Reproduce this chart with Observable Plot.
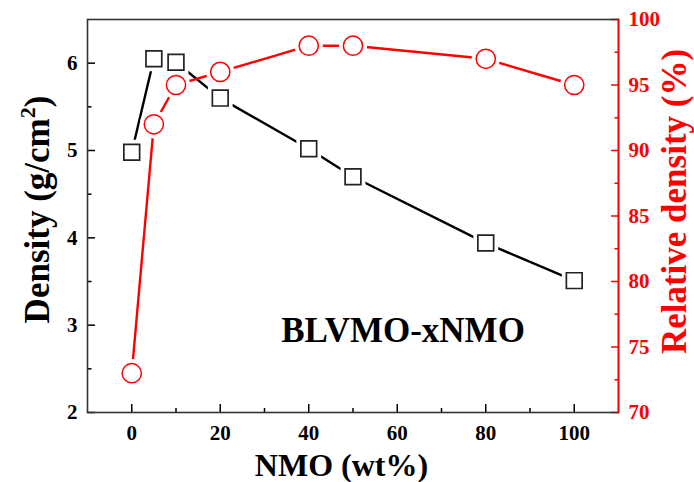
<!DOCTYPE html>
<html><head><meta charset="utf-8">
<script src="https://cdn.jsdelivr.net/npm/d3@7"></script>
<script src="https://cdn.jsdelivr.net/npm/@observablehq/plot@0.6"></script>
<style>body{margin:0;background:#fff} svg{display:block}</style>
</head><body><div id="chart"></div>
<script>
// ---- data ----
const nmo = [0, 5, 10, 20, 40, 50, 80, 100];
const density = [4.98, 6.05, 6.01, 5.60, 5.02, 4.70, 3.94, 3.51];
const relDensity = [73.0, 92.0, 95.0, 96.0, 98.0, 98.0, 97.0, 95.0];
const xTicks = [0, 20, 40, 60, 80, 100];
const xMinorTicks = [10, 30, 50, 70, 90];
const yTicks = [2, 3, 4, 5, 6];
const yMinorTicks = [2.5, 3.5, 4.5, 5.5];
const rTicks = [70, 75, 80, 85, 90, 95, 100];
const rMinorTicks = [72.5, 77.5, 82.5, 87.5, 92.5, 97.5];
const xLabel = "NMO (wt%)";
const yLabel = ["Density (g/cm", "2", ")"];
const rLabel = "Relative density (%)";
const note = "BLVMO-xNMO";

// ---- scales ----
const yDomain = [2, 6.5];
const rDomain = [70, 100];
const toY = v => yDomain[0] + (v - rDomain[0]) / (rDomain[1] - rDomain[0]) * (yDomain[1] - yDomain[0]);
const fromY = v => rDomain[0] + (v - yDomain[0]) / (yDomain[1] - yDomain[0]) * (rDomain[1] - rDomain[0]);

const dens = nmo.map((x, i) => ({x, y: density[i]}));
const rel = nmo.map((x, i) => ({x, y: toY(relDensity[i])}));

const font = "'Liberation Serif', 'Times New Roman', serif";
const W = 694, H = 482, mL = 87, mR = 76, mT = 19, mB = 70;

const chart = Plot.plot({
  width: W, height: H,
  marginLeft: mL, marginRight: mR, marginTop: mT, marginBottom: mB,
  style: {fontFamily: font, fontWeight: "bold", fontSize: "21px", background: "white", color: "black", overflow: "visible"},
  x: {domain: [-10, 110]},
  y: {domain: yDomain},
  marks: [
    Plot.line(dens, {x: "x", y: "y", stroke: "black", strokeWidth: 2.4}),
    Plot.line(rel, {x: "x", y: "y", stroke: "red", strokeWidth: 2.4}),
    // white halos to create gaps between lines and markers
    Plot.dot(dens, {x: "x", y: "y", symbol: "square", r: 8.9, fill: "white", stroke: "white", strokeWidth: 9}),
    Plot.dot(rel, {x: "x", y: "y", symbol: "circle", r: 9.6, fill: "white", stroke: "white", strokeWidth: 9}),
    Plot.dot(dens, {x: "x", y: "y", symbol: "square", r: 8.9, fill: "white", stroke: "#222", strokeWidth: 1.7}),
    Plot.dot(rel, {x: "x", y: "y", symbol: "circle", r: 9.6, fill: "white", stroke: "red", strokeWidth: 1.5}),
    Plot.text([note], {frameAnchor: "bottom", dx: 50, dy: -82, lineAnchor: "middle", fontSize: 35, fontWeight: "bold", fill: "black"}),
    // axes
    Plot.axisX(xTicks, {anchor: "bottom", tickSize: -8, tickPadding: 21, strokeWidth: 1.5, label: null, tickFormat: d => d}),
    Plot.axisX(xMinorTicks, {anchor: "bottom", tickSize: -4, strokeWidth: 1.5, label: null, tickFormat: () => ""}),
    Plot.axisY(yTicks, {anchor: "left", tickSize: -8, tickPadding: 18, strokeWidth: 1.5, label: null, tickFormat: d => d}),
    Plot.axisY(yMinorTicks, {anchor: "left", tickSize: -4.5, strokeWidth: 1.5, label: null, tickFormat: () => ""}),
    Plot.axisY(rTicks.map(toY), {anchor: "right", tickSize: -8, tickPadding: 18, strokeWidth: 1.5, color: "red", label: null, tickFormat: d => Math.round(fromY(d))}),
    Plot.axisY(rMinorTicks.map(toY), {anchor: "right", tickSize: -4.5, strokeWidth: 1.5, color: "red", label: null, tickFormat: () => ""}),
    Plot.frame({stroke: "#333", strokeWidth: 1.6}),
    Plot.frame({anchor: "right", stroke: "red", strokeWidth: 1.6})
  ]
});

document.getElementById("chart").appendChild(chart);

// ---- axis titles ----
const svg = d3.select(chart);
const plotCx = mL + (W - mL - mR) / 2;
const plotCy = mT + (H - mT - mB) / 2;

svg.append("text")
  .attr("x", plotCx - 11).attr("y", H - 6)
  .attr("text-anchor", "middle")
  .attr("font-family", font).attr("font-weight", "bold").attr("font-size", 32)
  .attr("fill", "black")
  .text(xLabel);

const lt = svg.append("text")
  .attr("transform", `translate(49,${plotCy - 6}) rotate(-90)`)
  .attr("text-anchor", "middle")
  .attr("font-family", font).attr("font-weight", "bold").attr("font-size", 35)
  .attr("fill", "black");
lt.append("tspan").text(yLabel[0]);
lt.append("tspan").attr("font-size", 22).attr("dy", -14).text(yLabel[1]);
lt.append("tspan").attr("dy", 14).text(yLabel[2]);

svg.append("text")
  .attr("transform", `translate(686,${plotCy - 14}) rotate(-90)`)
  .attr("text-anchor", "middle")
  .attr("font-family", font).attr("font-weight", "bold").attr("font-size", 35)
  .attr("fill", "red")
  .text(rLabel);
</script>
</body></html>
